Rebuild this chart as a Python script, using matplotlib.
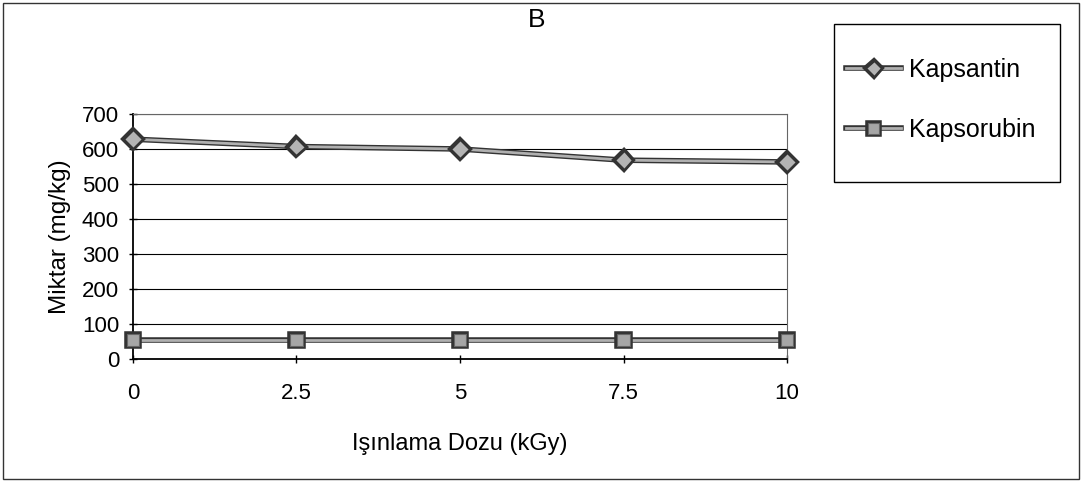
import matplotlib.pyplot as plt
import matplotlib.patheffects as pe
from matplotlib.patches import Rectangle

plt.rcParams['font.family'] = ['Liberation Sans', 'DejaVu Sans']

# data
doses = [0, 2.5, 5, 7.5, 10]
kapsantin = [628, 607, 600, 568, 563]
kapsorubin = [55, 55, 55, 55, 55]

fig = plt.figure(figsize=(10.82, 4.83), dpi=100)
ax = fig.add_axes([0.1229, 0.2567, 0.6045, 0.5073])

# lines drawn as dark outline with grey core, like the printed Excel chart
outline = [pe.Stroke(linewidth=4, foreground='#333333'), pe.Normal()]
ax.plot(doses, kapsantin, color='#b0b0b0', lw=2, marker='D', markersize=9,
        markerfacecolor='#b4b4b4', markeredgecolor='#333333', markeredgewidth=1.0,
        path_effects=outline, label='Kapsantin', clip_on=False, zorder=3)
ax.plot(doses, kapsorubin, color='#b0b0b0', lw=2, marker='s', markersize=9,
        markerfacecolor='#a6a6a6', markeredgecolor='#666666', markeredgewidth=0.8,
        path_effects=outline, label='Kapsorubin', clip_on=False, zorder=3)

ax.set_xlim(0, 10)
ax.set_ylim(0, 700)
ax.set_xticks(doses)
ax.set_xticklabels(['0', '2.5', '5', '7.5', '10'])
ax.set_yticks(range(0, 701, 100))
ax.grid(axis='y', color='black', lw=0.8)
ax.set_axisbelow(True)
for s in ['top', 'right']:
    ax.spines[s].set_color('#666666')
    ax.spines[s].set_linewidth(0.8)
ax.spines['left'].set_linewidth(1.3)
ax.spines['bottom'].set_linewidth(1.3)
ax.tick_params(axis='both', labelsize=16, direction='inout', length=6, width=1)
ax.tick_params(axis='x', pad=14)
ax.tick_params(axis='y', pad=7)

fig.text(0.496, 0.958, 'B', fontsize=19, ha='center', va='center')
ax.set_xlabel('Işınlama Dozu (kGy)', fontsize=17, labelpad=21)
ax.set_ylabel('Miktar (mg/kg)', fontsize=17.5, labelpad=8)

# legend entries without frame, box drawn separately
leg = fig.legend(loc='center left', bbox_to_anchor=(0.782, 0.793),
                 fontsize=18, frameon=False, handlelength=2.2, handletextpad=0.3,
                 labelspacing=1.45, borderpad=0, borderaxespad=0,
                 markerscale=0.85)
fig.patches.append(Rectangle((0.771, 0.623), 0.209, 0.327, transform=fig.transFigure,
                             fill=False, edgecolor='black', lw=1.0))

fig.patches.append(Rectangle((0.003, 0.008), 0.994, 0.986, transform=fig.transFigure,
                             fill=False, edgecolor='#333333', lw=1.0))

fig.savefig('out.png', dpi=100)
